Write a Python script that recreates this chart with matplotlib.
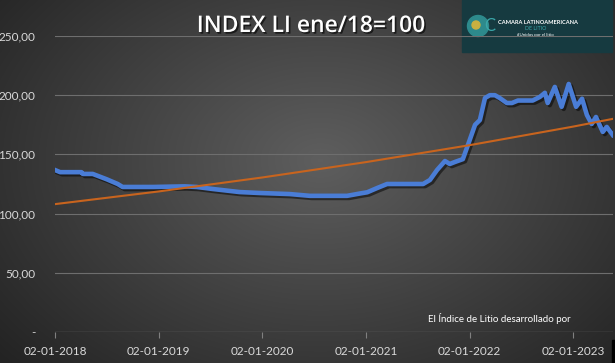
import numpy as np
import pandas as pd
import matplotlib
matplotlib.use('Agg')
import matplotlib.pyplot as plt
import matplotlib.patheffects as pe
from matplotlib.patches import Rectangle, Circle

# Datos (índice litio, ene/18 = 100)
fechas = ['2018-01-02', '2018-01-20', '2018-04-05', '2018-04-10', '2018-05-15',
          '2018-07-03', '2018-08-11', '2018-08-28', '2018-12-15', '2019-04-04',
          '2019-05-16', '2019-07-11', '2019-10-14', '2019-12-24', '2020-04-08',
          '2020-06-18', '2020-10-27', '2020-12-12', '2021-01-06', '2021-02-10',
          '2021-03-17', '2021-07-22', '2021-08-15', '2021-09-09', '2021-10-07',
          '2021-10-24', '2021-11-11', '2021-12-09', '2021-12-27', '2022-01-21',
          '2022-02-07', '2022-02-25', '2022-03-14', '2022-04-01', '2022-04-18',
          '2022-05-13', '2022-05-31', '2022-06-21', '2022-08-12', '2022-09-06',
          '2022-09-24', '2022-10-04', '2022-10-29', '2022-11-22', '2022-12-17',
          '2023-01-12', '2023-02-02', '2023-02-19', '2023-03-08', '2023-03-23',
          '2023-04-16', '2023-04-30', '2023-05-21']
indice = [136.8, 135.0, 135.0, 133.5, 133.5,
          129.0, 125.0, 122.5, 122.5, 123.0,
          122.5, 120.8, 118.2, 117.4, 116.5,
          115.0, 115.0, 117.0, 118.0, 121.6,
          125.0, 125.0, 128.4, 136.8, 144.4,
          141.9, 143.6, 146.0, 158.0, 175.0,
          179.0, 197.6, 200.0, 200.0, 197.6,
          193.4, 193.4, 195.5, 195.5, 198.5,
          202.0, 193.4, 207.0, 190.2, 209.5,
          190.2, 197.0, 183.3, 175.7, 181.6,
          169.0, 173.2, 166.4]

# Línea de tendencia (exponencial)
fechas_tend = ['2018-01-02', '2019-01-02', '2020-01-02', '2021-01-02',
               '2022-01-02', '2023-01-02', '2023-05-21']
tendencia = [108.0, 118.7, 130.5, 143.5, 157.8, 173.5, 180.0]

ticks_x = ['2018-01-02', '2019-01-02', '2020-01-02', '2021-01-02',
           '2022-01-02', '2023-01-02']
ticks_y = [0, 50, 100, 150, 200, 250]

W, H = 615, 363
fig = plt.figure(figsize=(W / 100, H / 100), dpi=100)

# Fondo con degradado radial (ejes en pixeles, origen arriba a la izquierda)
bg = fig.add_axes([0, 0, 1, 1], zorder=-10)
yy, xx = np.mgrid[0:H, 0:W]
d = np.sqrt(((xx - 320) / 420.0) ** 2 + ((yy - 160) / 300.0) ** 2)
gris = np.clip(0.37 - 0.23 * d, 0.14, 0.4)
bg.imshow(np.dstack([gris, gris, gris]), aspect='auto', extent=[0, W, H, 0])
bg.set_xlim(0, W)
bg.set_ylim(H, 0)
bg.axis('off')

ax = fig.add_axes([55 / W, 1 - 332 / H, (613 - 55) / W, (332 - 36) / H])
ax.set_facecolor('none')

x = pd.to_datetime(fechas)
xt = pd.to_datetime(fechas_tend)

ax.plot(x, indice, color='#4A7DD6', lw=3.3, solid_joinstyle='round', zorder=3,
        path_effects=[pe.SimpleLineShadow(offset=(1.5, -1.5), shadow_color='black', alpha=0.5),
                      pe.Normal()])
ax.plot(xt, tendencia, color='#C8641E', lw=1.5, zorder=4)

ax.set_ylim(0, 250)
ax.set_xlim(pd.Timestamp('2018-01-02'), pd.Timestamp('2023-05-22'))

for v in ticks_y[1:]:
    ax.axhline(v, color='#6e6e6e', lw=0.8, zorder=1)
ax.axhline(0, color='#808080', lw=0.9, zorder=1)

for s in ax.spines.values():
    s.set_visible(False)

ax.set_yticks(ticks_y)
ax.set_yticklabels(['-' if v == 0 else f'{v:.2f}'.replace('.', ',') for v in ticks_y])
ax.tick_params(axis='y', length=0, pad=14, labelsize=8.5, labelcolor='#d9d9d9')
for lab in ax.get_yticklabels():
    lab.set_fontfamily('Lato')

xticks = pd.to_datetime(ticks_x)
ax.set_xticks(xticks)
ax.set_xticklabels([t.strftime('%d-%m-%Y') for t in xticks])
ax.tick_params(axis='x', length=4, width=0.8, color='#808080', pad=6,
               labelsize=8.5, labelcolor='#d9d9d9')
for lab in ax.get_xticklabels():
    lab.set_fontfamily('Lato')

# Título con sombra
fig.text(311 / W, 1 - 26 / H, 'INDEX LI ene/18=100', ha='center', va='center',
         color='white', fontsize=16.5, family='Open Sans', fontweight='semibold',
         path_effects=[pe.withSimplePatchShadow(offset=(1.2, -1.2), shadow_rgbFace='black', alpha=0.6)])

fig.text(428 / W, 1 - 318 / H, 'El Índice de Litio desarrollado por', ha='left', va='center',
         color='white', fontsize=7, family='Lato')

# Logo de la cámara (coordenadas en pixeles sobre el eje de fondo)
bg.add_patch(Rectangle((462, 0), 150, 52, color='#163a40', zorder=5))
bg.add_patch(Circle((478, 26), 10.5, color='#2d8a8c', zorder=6))
bg.add_patch(Circle((476, 25), 4, color='#c8b040', zorder=7))
bg.text(490, 26, 'C', color='#3aa6a8', fontsize=12, ha='center', va='center',
        family='Lato', zorder=7)
bg.text(498, 23, 'CAMARA LATINOAMERICANA', color='white', fontsize=4.1,
        ha='left', va='center', family='Lato', fontweight='bold', zorder=7)
bg.text(536, 29, 'DE LITIO', color='#3aa6a8', fontsize=3.8, ha='center',
        va='center', family='Lato', zorder=7)
bg.text(535, 35, '#Unidos por el litio', color='white', fontsize=3.2,
        ha='center', va='center', family='Lato', zorder=7)

bg.add_patch(Rectangle((612, 340), 3, 23, color='black', zorder=5))

fig.savefig('out.png', dpi=100)
